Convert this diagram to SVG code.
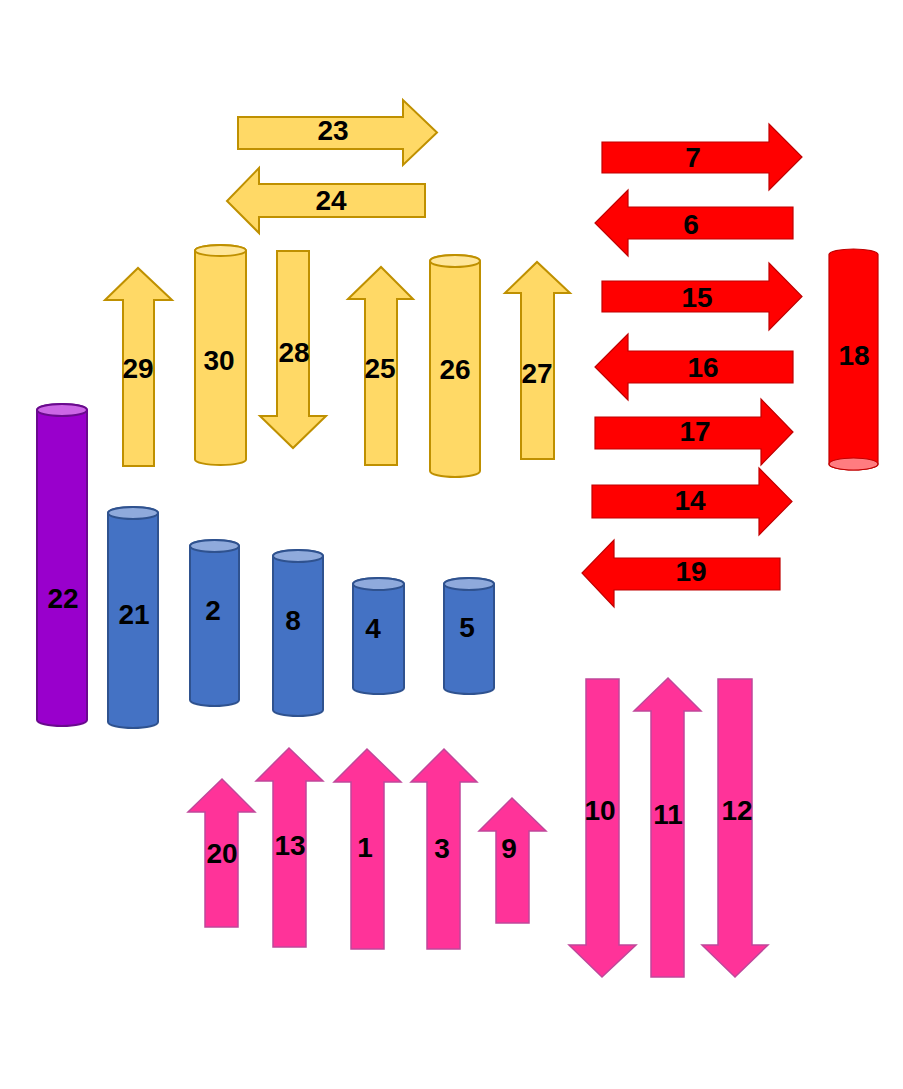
<svg xmlns="http://www.w3.org/2000/svg" width="903" height="1089" viewBox="0 0 903 1089">
  <style>
    .yel { fill: #FFD966; stroke: #BF9000; stroke-width: 2; stroke-linejoin: miter; }
    .yel-top { fill: #FFE699; stroke: #BF9000; stroke-width: 2; }
    .red { fill: #FF0000; stroke: #C00000; stroke-width: 1.2; }
    .red-cap { fill: #FF7C80; stroke: #C00000; stroke-width: 1.2; }
    .blu { fill: #4472C4; stroke: #2F528F; stroke-width: 2; }
    .blu-top { fill: #8FAADC; stroke: #2F528F; stroke-width: 2; }
    .pur { fill: #9900CC; stroke: #6A0A8E; stroke-width: 2; }
    .pur-top { fill: #CC66E6; stroke: #6A0A8E; stroke-width: 2; }
    .pnk { fill: #FF3399; stroke: #C0479A; stroke-width: 1.5; }
    text { font-family: "Liberation Sans", Arial, sans-serif; font-weight: bold; font-size: 28px; fill: #000; text-anchor: middle; }
  </style>
  <rect width="903" height="1089" fill="#FFFFFF"/>

  <!-- yellow group -->
  <g id="n23"><polygon class="yel" points="238,117 403,117 403,100 437,132.5 403,165 403,149 238,149"/><text x="333" y="140">23</text></g>
  <g id="n24"><polygon class="yel" points="425,184 259,184 259,168 227,201 259,233 259,217 425,217"/><text x="331" y="210">24</text></g>
  <g id="n29"><polygon class="yel" points="123,466 123,300 105,300 138,268 172,300 154,300 154,466"/><text x="138" y="378">29</text></g>
  <g id="n30">
    <path class="yel" d="M195,250.5 V459.5 A25.5,5.5 0 0 0 246,459.5 V250.5 A25.5,5.5 0 0 0 195,250.5 Z"/>
    <ellipse class="yel-top" cx="220.5" cy="250.5" rx="25.5" ry="5.5"/>
    <text x="219" y="370">30</text>
  </g>
  <g id="n28"><polygon class="yel" points="277,251 309,251 309,416 326,416 293,448 260,416 277,416"/><text x="294" y="362">28</text></g>
  <g id="n25"><polygon class="yel" points="365,465 365,299 348,299 381,267 413,299 397,299 397,465"/><text x="380" y="378">25</text></g>
  <g id="n26">
    <path class="yel" d="M430,261 V471 A25,6 0 0 0 480,471 V261 A25,6 0 0 0 430,261 Z"/>
    <ellipse class="yel-top" cx="455" cy="261" rx="25" ry="6"/>
    <text x="455" y="379">26</text>
  </g>
  <g id="n27"><polygon class="yel" points="521,459 521,293 505,293 537,262 570,293 554,293 554,459"/><text x="537" y="383">27</text></g>

  <!-- red group -->
  <g id="n7"><polygon class="red" points="602,142 769,142 769,124 802,157 769,190 769,173 602,173"/><text x="693" y="167">7</text></g>
  <g id="n6"><polygon class="red" points="793,207 628,207 628,190 595,223 628,256 628,239 793,239"/><text x="691" y="234">6</text></g>
  <g id="n15"><polygon class="red" points="602,281 769,281 769,263 802,296.5 769,330 769,312 602,312"/><text x="697" y="307">15</text></g>
  <g id="n16"><polygon class="red" points="793,351 628,351 628,334 595,367 628,400 628,383 793,383"/><text x="703" y="377">16</text></g>
  <g id="n17"><polygon class="red" points="595,417 761,417 761,399 793,432 761,465 761,449 595,449"/><text x="695" y="441">17</text></g>
  <g id="n14"><polygon class="red" points="592,485 759,485 759,468 792,501.5 759,535 759,518 592,518"/><text x="690" y="510">14</text></g>
  <g id="n19"><polygon class="red" points="780,558 614,558 614,540 582,573 614,607 614,590 780,590"/><text x="691" y="581">19</text></g>
  <g id="n18">
    <path class="red" d="M829,254.5 A24.5,5.5 0 0 1 878,254.5 V464 A24.5,6 0 0 1 829,464 Z"/>
    <ellipse class="red-cap" cx="853.5" cy="464" rx="24.5" ry="6"/>
    <text x="854" y="365">18</text>
  </g>

  <!-- purple and blue cylinders -->
  <g id="n22">
    <path class="pur" d="M37,410 V720 A25,6 0 0 0 87,720 V410 A25,6 0 0 0 37,410 Z"/>
    <ellipse class="pur-top" cx="62" cy="410" rx="25" ry="6"/>
    <text x="63" y="608">22</text>
  </g>
  <g id="n21">
    <path class="blu" d="M108,513 V722 A25,6 0 0 0 158,722 V513 A25,6 0 0 0 108,513 Z"/>
    <ellipse class="blu-top" cx="133" cy="513" rx="25" ry="6"/>
    <text x="134" y="624">21</text>
  </g>
  <g id="n2">
    <path class="blu" d="M190,546 V700 A24.5,6 0 0 0 239,700 V546 A24.5,6 0 0 0 190,546 Z"/>
    <ellipse class="blu-top" cx="214.5" cy="546" rx="24.5" ry="6"/>
    <text x="213" y="620">2</text>
  </g>
  <g id="n8">
    <path class="blu" d="M273,556 V710 A25,6 0 0 0 323,710 V556 A25,6 0 0 0 273,556 Z"/>
    <ellipse class="blu-top" cx="298" cy="556" rx="25" ry="6"/>
    <text x="293" y="630">8</text>
  </g>
  <g id="n4">
    <path class="blu" d="M353,584 V688 A25.5,6 0 0 0 404,688 V584 A25.5,6 0 0 0 353,584 Z"/>
    <ellipse class="blu-top" cx="378.5" cy="584" rx="25.5" ry="6"/>
    <text x="373" y="638">4</text>
  </g>
  <g id="n5">
    <path class="blu" d="M444,584 V688 A25,6 0 0 0 494,688 V584 A25,6 0 0 0 444,584 Z"/>
    <ellipse class="blu-top" cx="469" cy="584" rx="25" ry="6"/>
    <text x="467" y="637">5</text>
  </g>

  <!-- pink group -->
  <g id="n20"><polygon class="pnk" points="205,927 205,812 188,812 222,779 255,812 238,812 238,927"/><text x="222" y="863">20</text></g>
  <g id="n13"><polygon class="pnk" points="273,947 273,781 256,781 289,748 323,781 306,781 306,947"/><text x="290" y="855">13</text></g>
  <g id="n1"><polygon class="pnk" points="351,949 351,782 334,782 367,749 401,782 384,782 384,949"/><text x="365" y="857">1</text></g>
  <g id="n3"><polygon class="pnk" points="427,949 427,782 411,782 444,749 477,782 460,782 460,949"/><text x="442" y="858">3</text></g>
  <g id="n9"><polygon class="pnk" points="496,923 496,831 479,831 512,798 546,831 529,831 529,923"/><text x="509" y="858">9</text></g>
  <g id="n10"><polygon class="pnk" points="586,679 619,679 619,945 636,945 602,977 569,945 586,945"/><text x="600" y="820">10</text></g>
  <g id="n11"><polygon class="pnk" points="651,977 651,711 634,711 668,678 701,711 684,711 684,977"/><text x="668" y="824">11</text></g>
  <g id="n12"><polygon class="pnk" points="718,679 752,679 752,945 768,945 735,977 702,945 718,945"/><text x="737" y="820">12</text></g>

  <g id="connectors"/>
</svg>
